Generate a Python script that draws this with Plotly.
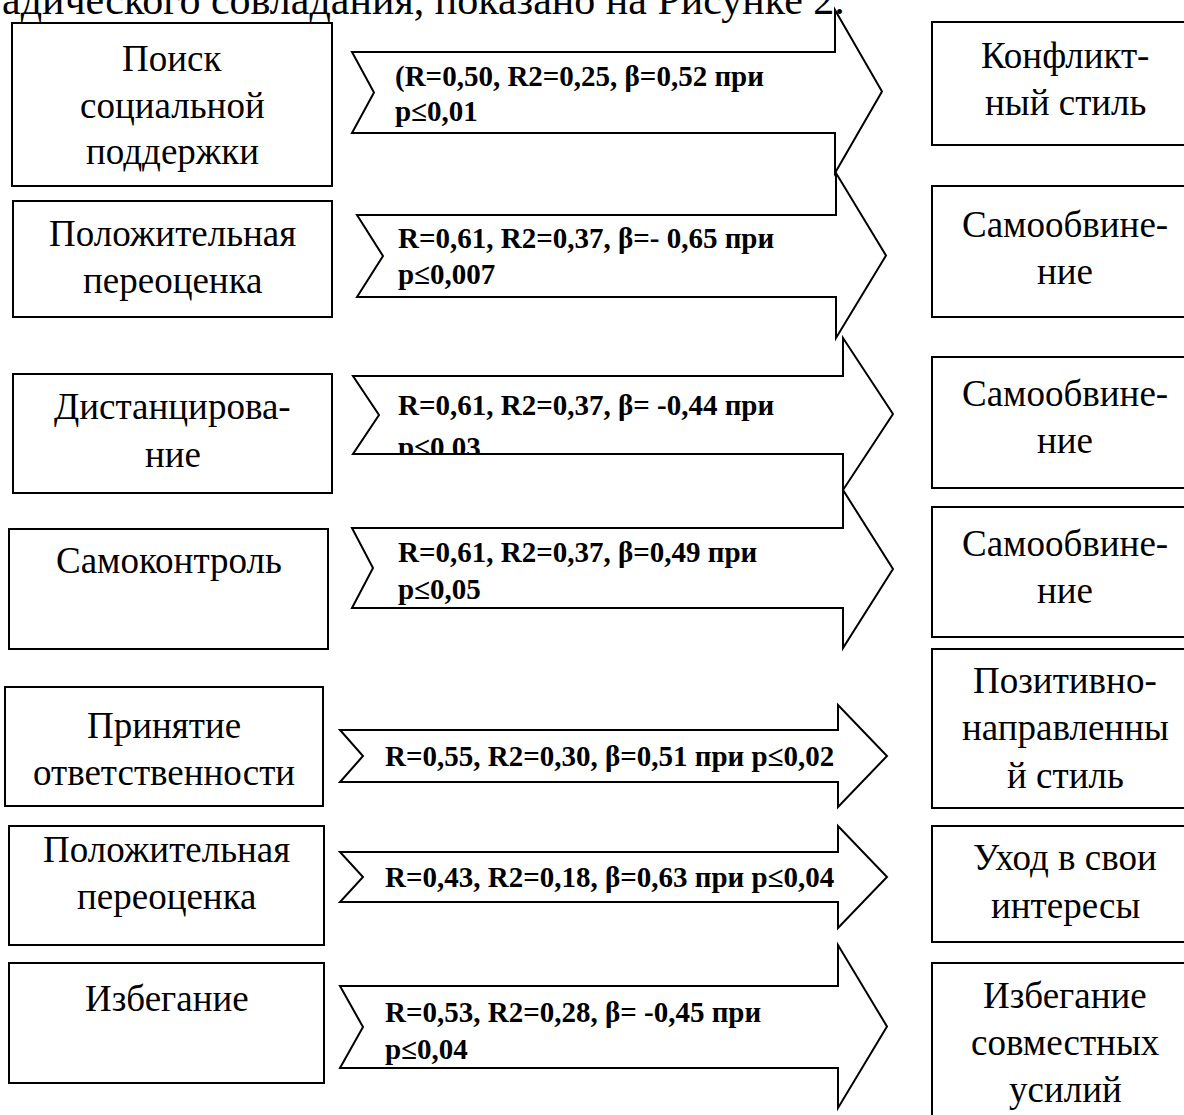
import plotly.graph_objects as go

W, H = 1184, 1115

# ---------------- content ----------------
header_text = "адического совладания, показано на Рисунке 2."

left_labels = [
    ["Поиск", "социальной", "поддержки"],
    ["Положительная", "переоценка"],
    ["Дистанцирова-", "ние"],
    ["Самоконтроль"],
    ["Принятие", "ответственности"],
    ["Положительная", "переоценка"],
    ["Избегание"],
]

right_labels = [
    ["Конфликт-", "ный стиль"],
    ["Самообвине-", "ние"],
    ["Самообвине-", "ние"],
    ["Самообвине-", "ние"],
    ["Позитивно-", "направленны", "й стиль"],
    ["Уход в свои", "интересы"],
    ["Избегание", "совместных", "усилий"],
]

arrow_labels = [
    ["(R=0,50, R2=0,25, β=0,52 при", "p≤0,01"],
    ["R=0,61, R2=0,37, β=- 0,65 при", "p≤0,007"],
    ["R=0,61, R2=0,37, β= -0,44 при", "p≤0,03"],
    ["R=0,61, R2=0,37, β=0,49 при", "p≤0,05"],
    ["R=0,55, R2=0,30, β=0,51 при p≤0,02"],
    ["R=0,43, R2=0,18, β=0,63 при p≤0,04"],
    ["R=0,53, R2=0,28, β= -0,45 при", "p≤0,04"],
]

# ---------------- layout geometry (pixels) ----------------
left_boxes = [(12, 332, 23, 186), (13, 332, 201, 317), (13, 332, 374, 493),
              (9, 328, 529, 649), (5, 323, 687, 806), (9, 324, 826, 945),
              (9, 324, 963, 1083)]
left_baselines = [[71, 118, 164], [246, 293], [419, 467], [573],
                  [738, 785], [862, 909], [1011]]

right_x0, right_x1 = 932, 1200
right_boxes_y = [(22, 145), (186, 317), (357, 488), (507, 637),
                 (649, 808), (826, 942), (963, 1140)]
right_baselines = [[68, 115], [237, 284], [406, 453], [556, 603],
                   [693, 740, 788], [870, 918], [1008, 1055, 1102]]
right_text_x = 1065

# arrows: tail_x, notch_x, shaft_x, tip_x, body_top, body_bot, head_top, head_bot
arrows = [
    (352, 374, 835, 882, 52, 133, 10, 173),
    (357, 383, 836, 886, 215, 297, 173, 338),
    (353, 379, 843, 893, 376, 454, 338, 490),
    (352, 373, 843, 893, 528, 608, 490, 648),
    (340, 363, 838, 887, 730, 782, 705, 807),
    (340, 363, 838, 887, 852, 902, 826, 928),
    (340, 363, 838, 887, 986, 1068, 945, 1108),
]
arrow_text_x = [395, 398, 398, 398, 385, 385, 385]
arrow_baselines = [[86, 121], [248, 284], [415, 457], [562, 599],
                   [766], [887], [1022, 1059]]

SERIF = "Liberation Serif"
BOX_FS = 37
HEAD_FS = 42
HEAD_BASELINE = 14
ARR_FS = 29
LW = 2

fig = go.Figure()
shapes = []
annotations = []


def box_text(x, baseline, text, fs=BOX_FS, xanchor="center"):
    annotations.append(dict(
        x=x, y=baseline - 0.34 * fs, xref="x", yref="y", text=text,
        showarrow=False, xanchor=xanchor, yanchor="middle",
        font=dict(family=SERIF, size=fs, color="black")))


# header line (cut at the top, as in the source page) - paper coords so it is not culled
annotations.append(dict(
    x=0, y=1 - (HEAD_BASELINE - 0.34 * HEAD_FS) / H, xref="paper", yref="paper",
    text=header_text, showarrow=False, xanchor="left", yanchor="middle",
    font=dict(family=SERIF, size=HEAD_FS, color="black")))

# left boxes
for (x0, x1, y0, y1), lines, bls in zip(left_boxes, left_labels, left_baselines):
    shapes.append(dict(type="rect", x0=x0, x1=x1, y0=y0, y1=y1, xref="x", yref="y",
                       line=dict(color="black", width=LW), fillcolor="white", layer="below"))
    for t, b in zip(lines, bls):
        box_text((x0 + x1) / 2, b, t)

# right boxes
for (y0, y1), lines, bls in zip(right_boxes_y, right_labels, right_baselines):
    shapes.append(dict(type="rect", x0=right_x0, x1=right_x1, y0=y0, y1=y1, xref="x", yref="y",
                       line=dict(color="black", width=LW), fillcolor="white", layer="below"))
    for t, b in zip(lines, bls):
        box_text(right_text_x, b, t)

# arrows
for (tx, nx, sx, px, bt, bb, ht, hb) in arrows:
    mid = (ht + hb) / 2
    path = (f"M {tx},{bt} L {sx},{bt} L {sx},{ht} L {px},{mid} L {sx},{hb} "
            f"L {sx},{bb} L {tx},{bb} L {nx},{(bt + bb) / 2} Z")
    shapes.append(dict(type="path", path=path, xref="x", yref="y",
                       line=dict(color="black", width=LW), fillcolor="white", layer="below"))

# arrow labels as text traces (so the clipped label can be masked)
xs, ys, ts = [], [], []
for x, lines, bls in zip(arrow_text_x, arrow_labels, arrow_baselines):
    for t, b in zip(lines, bls):
        xs.append(x)
        ys.append(b - 0.25 * ARR_FS)
        ts.append(t)
fig.add_trace(go.Scatter(x=xs, y=ys, text=ts, mode="text", textposition="middle right",
                         textfont=dict(family=SERIF, size=ARR_FS, color="black", weight="bold"),
                         hoverinfo="skip", showlegend=False, cliponaxis=False))

# mask the label overflowing the bottom edge of arrow 3
a3 = arrows[2]
shapes.append(dict(type="rect", x0=a3[0] + 30, x1=a3[0] + 200, y0=a3[5] + 1, y1=a3[5] + 22,
                   xref="x", yref="y", line=dict(width=0), fillcolor="white", layer="above"))
shapes.append(dict(type="line", x0=a3[0] + 25, x1=a3[0] + 205, y0=a3[5], y1=a3[5],
                   xref="x", yref="y", line=dict(color="black", width=LW), layer="above"))

fig.update_layout(
    width=W, height=H,
    margin=dict(l=0, r=0, t=0, b=0),
    paper_bgcolor="white", plot_bgcolor="white",
    xaxis=dict(range=[0, W], visible=False, fixedrange=True),
    yaxis=dict(range=[H, 0], visible=False, fixedrange=True),
    shapes=shapes, annotations=annotations,
)

fig.write_html("out.html",
               config={"displayModeBar": False, "staticPlot": True},
               post_script="document.body.style.margin='0px';"
                           "document.body.style.overflow='hidden';")
